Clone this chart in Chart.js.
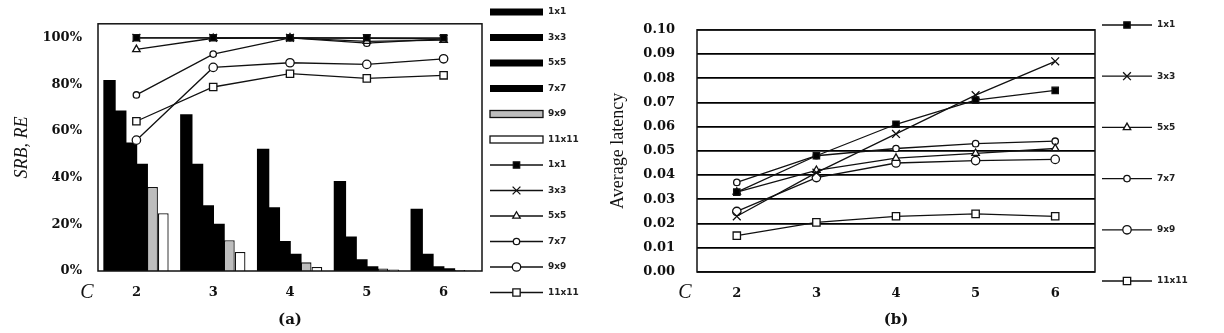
<!DOCTYPE html>
<html>
<head>
<meta charset="utf-8">
<script src="https://cdn.jsdelivr.net/npm/chart.js@4.4.1/dist/chart.umd.min.js"></script>
<style>
  body { margin: 0; background: #fff; }
  #wrap { position: relative; width: 1224px; height: 333px; }
  canvas { position: absolute; top: 0; }
  #chartA { left: 0; }
  #chartB { left: 600px; }
</style>
</head>
<body>
<div id="wrap">
  <canvas id="chartA" width="600" height="333"></canvas>
  <canvas id="chartB" width="624" height="333"></canvas>
</div>
<script>
// categories (C) and window sizes
const categories = ['2', '3', '4', '5', '6'];
const sizes = ['1x1', '3x3', '5x5', '7x7', '9x9', '11x11'];

// (a) bars, percent
const srb1x1 = [81.6, 66.9, 52.1, 38.3, 26.3];
const srb3x3 = [68.5, 45.6, 27.0, 14.5, 7.1];
const srb5x5 = [54.8, 27.9, 12.5, 4.7, 1.7];
const srb7x7 = [45.6, 19.9, 7.1, 1.7, 0.8];
const srb9x9 = [36.0, 13.2, 3.7, 1.1, 0.4];
const srb11x11 = [24.8, 8.2, 1.7, 0.6, 0.2];

// (a) lines, percent
const re1x1 = [100, 100, 100, 100, 100];
const re3x3 = [100, 100, 100, 99.8, 99.5];
const re5x5 = [95.0, 99.8, 100, 98.5, 99.0];
const re7x7 = [75.5, 93.0, 100, 97.7, 99.5];
const re9x9 = [56.1, 87.3, 89.3, 88.6, 91.0];
const re11x11 = [64.2, 78.9, 84.6, 82.6, 83.9];

// (b) average latency
const lat1x1 = [0.033, 0.048, 0.061, 0.071, 0.075];
const lat3x3 = [0.023, 0.041, 0.057, 0.073, 0.087];
const lat5x5 = [0.033, 0.042, 0.047, 0.049, 0.051];
const lat7x7 = [0.037, 0.048, 0.051, 0.053, 0.054];
const lat9x9 = [0.025, 0.039, 0.045, 0.046, 0.0465];
const lat11x11 = [0.015, 0.0205, 0.023, 0.024, 0.023];

const srbSeries = [srb1x1, srb3x3, srb5x5, srb7x7, srb9x9, srb11x11];
const reSeries = [re1x1, re3x3, re5x5, re7x7, re9x9, re11x11];
const latSeries = [lat1x1, lat3x3, lat5x5, lat7x7, lat9x9, lat11x11];

// styles
const barFill = ['#000', '#000', '#000', '#000', '#bdbdbd', '#fff'];
const markers = [
    {style: 'rect', radius: 4.5, bg: '#000'},
    {style: 'crossRot', radius: 5.5, bg: '#000'},
    {style: 'triangle', radius: 4.3, bg: '#fff'},
    {style: 'circle', radius: 3.2, bg: '#fff'},
    {style: 'circle', radius: 4.2, bg: '#fff'},
    {style: 'rect', radius: 5.2, bg: '#fff'}
];

const ink = '#111';
const tickFont = {family: "'DejaVu Serif'", weight: 'bold', size: 13};
const titleFont = {family: "'DejaVu Serif'", weight: 'bold', size: 15};

const lineDataset = (vals, i) => ({
    type: 'line',
    label: sizes[i],
    data: vals,
    borderColor: ink,
    borderWidth: 1.3,
    pointStyle: markers[i].style,
    pointRadius: markers[i].radius,
    pointBackgroundColor: markers[i].bg,
    pointBorderColor: ink,
    pointBorderWidth: 1.3,
    fill: false,
    tension: 0,
    order: 1
});

// box round the plot area
const framePlugin = {
    id: 'frame',
    afterDraw(chart) {
        const {ctx, chartArea: a} = chart;
        ctx.save();
        ctx.strokeStyle = ink;
        ctx.lineWidth = 1.5;
        ctx.strokeRect(a.left, a.top, a.right - a.left, a.bottom - a.top);
        ctx.restore();
    }
};

// legend at the side + the "C" letter of the x axis
const sideLegend = (cfg) => ({
    id: 'sideLegend',
    afterDraw(chart) {
        const ctx = chart.ctx;
        ctx.save();
        ctx.textBaseline = 'middle';
        cfg.items.forEach((it, i) => {
            const y = cfg.top + i * cfg.step;
            ctx.lineWidth = 1.3;
            ctx.strokeStyle = ink;
            if (it.kind === 'bar') {
                ctx.fillStyle = it.fill;
                ctx.fillRect(cfg.x0, y - 3.5, cfg.x1 - cfg.x0, 7);
                if (it.fill !== '#000') ctx.strokeRect(cfg.x0, y - 3.5, cfg.x1 - cfg.x0, 7);
            } else {
                ctx.beginPath();
                ctx.moveTo(cfg.x0, y);
                ctx.lineTo(cfg.x1, y);
                ctx.stroke();
                ctx.fillStyle = it.marker.bg;
                Chart.helpers.drawPoint(ctx, {
                    pointStyle: it.marker.style,
                    radius: it.marker.radius,
                    rotation: 0,
                    borderWidth: 1.3
                }, (cfg.x0 + cfg.x1) / 2, y);
            }
            ctx.fillStyle = '#222';
            ctx.font = 'bold 9px "DejaVu Sans"';
            ctx.fillText(it.label, cfg.textX, y);
        });
        ctx.fillStyle = ink;
        ctx.font = 'italic 20px "Liberation Serif"';
        ctx.textAlign = 'center';
        ctx.fillText('C', cfg.letterX, cfg.letterY);
        ctx.restore();
    }
});

const legendA = [
    ...sizes.map((s, i) => ({kind: 'bar', label: s, fill: barFill[i]})),
    ...sizes.map((s, i) => ({kind: 'line', label: s, marker: markers[i]}))
];
const legendB = sizes.map((s, i) => ({kind: 'line', label: s, marker: markers[i]}));

// (a) SRB, RE
new Chart(document.getElementById('chartA'), {
    data: {
        labels: categories,
        datasets: [
            ...srbSeries.map((vals, i) => ({
                type: 'bar',
                label: sizes[i],
                data: vals,
                backgroundColor: barFill[i],
                borderColor: ink,
                borderWidth: i >= 4 ? 1.3 : 0,
                inflateAmount: i >= 4 ? 0 : 0.8,
                categoryPercentage: 0.84,
                barPercentage: 1.0,
                order: 2
            })),
            ...reSeries.map(lineDataset)
        ]
    },
    options: {
        responsive: false,
        animation: false,
        layout: {padding: {top: 8, right: 118, left: 0, bottom: 0}},
        plugins: {
            legend: {display: false},
            tooltip: {enabled: false}
        },
        scales: {
            x: {
                grid: {display: false, drawTicks: false},
                border: {display: false},
                ticks: {font: tickFont, color: ink, padding: 14},
                title: {display: true, text: '(a)', font: titleFont, color: ink, padding: {top: 0, bottom: 4}},
                afterFit(scale) { scale.height = 62; }
            },
            y: {
                min: 0,
                max: 106,
                ticks: {stepSize: 20, includeBounds: false, callback: v => v + '%', font: tickFont, color: ink, padding: 16},
                grid: {display: false, drawTicks: false},
                border: {display: false},
                title: {display: true, text: 'SRB, RE', color: ink,
                    font: {family: "'Liberation Serif'", style: 'italic', size: 18}, padding: {top: 11}},
                afterFit(scale) { scale.width = 98; }
            }
        }
    },
    plugins: [framePlugin, sideLegend({
        items: legendA, top: 12, step: 25.5, x0: 490, x1: 543, textX: 548, letterX: 87, letterY: 293
    })]
});

// (b) Average latency
new Chart(document.getElementById('chartB'), {
    type: 'line',
    data: {
        labels: categories,
        datasets: latSeries.map(lineDataset)
    },
    options: {
        responsive: false,
        animation: false,
        layout: {padding: {top: 10, right: 129, left: 0, bottom: 0}},
        plugins: {
            legend: {display: false},
            tooltip: {enabled: false}
        },
        scales: {
            x: {
                offset: true,
                grid: {display: false, drawTicks: false},
                border: {display: false},
                ticks: {font: tickFont, color: ink, padding: 14},
                title: {display: true, text: '(b)', font: titleFont, color: ink, padding: {top: 0, bottom: 4}},
                afterFit(scale) { scale.height = 61; }
            },
            y: {
                min: 0,
                max: 0.1,
                ticks: {stepSize: 0.01, callback: v => v.toFixed(2), font: tickFont, color: ink, padding: 22},
                grid: {color: '#000', lineWidth: 1.7, drawTicks: false},
                border: {display: false},
                title: {display: true, text: 'Average latency', color: ink,
                    font: {family: "'Liberation Serif'", size: 18}, padding: {top: 7}},
                afterFit(scale) { scale.width = 97; }
            }
        }
    },
    plugins: [framePlugin, sideLegend({
        items: legendB, top: 25, step: 51.2, x0: 502, x1: 552, textX: 557, letterX: 85, letterY: 293
    })]
});
</script>
</body>
</html>
